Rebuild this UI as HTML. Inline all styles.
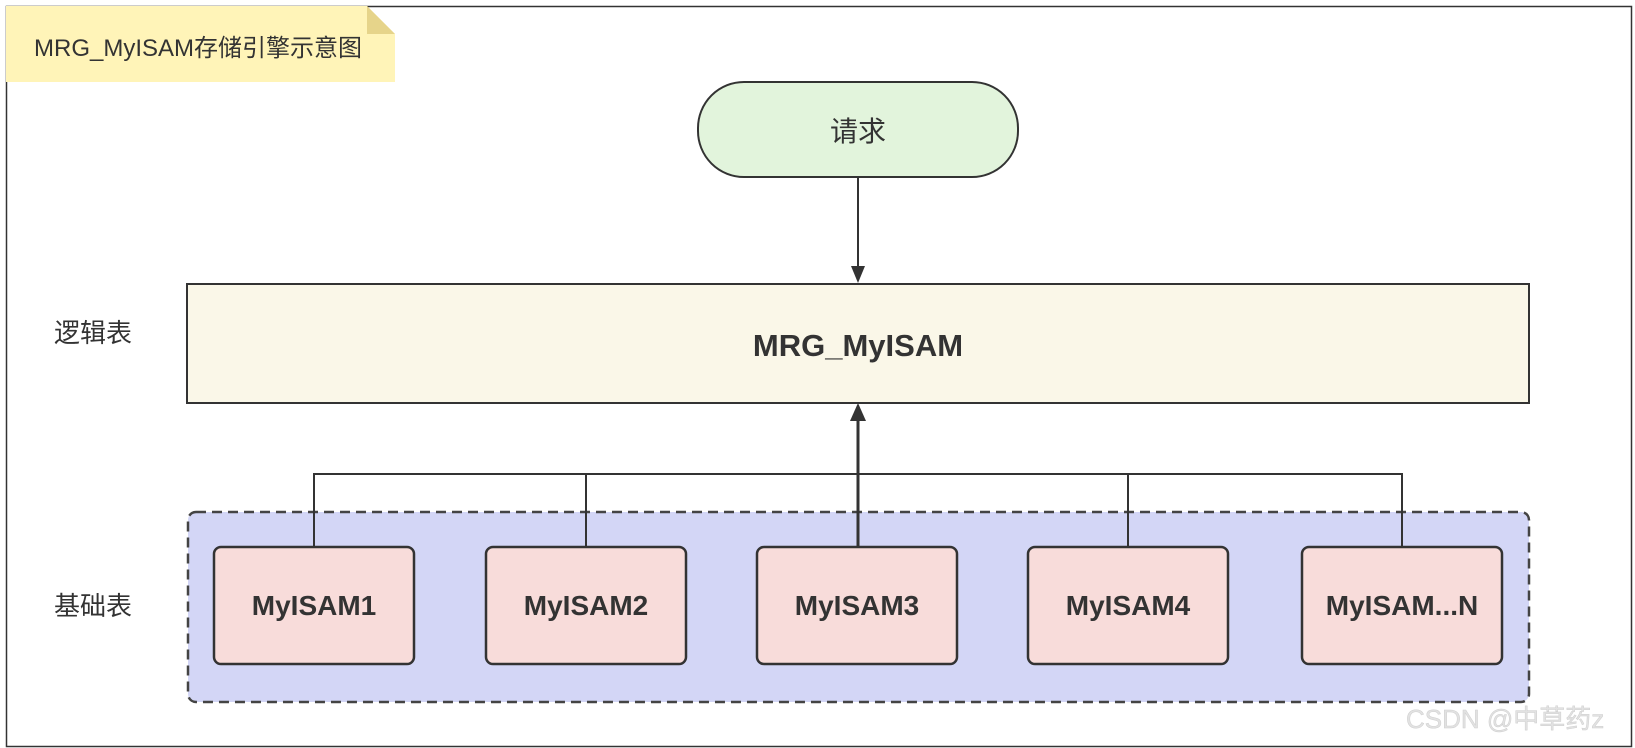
<!DOCTYPE html>
<html><head><meta charset="utf-8"><style>
html,body{margin:0;padding:0;background:#fff;}
svg{display:block;}
text{font-family:"Liberation Sans","Noto Sans CJK SC",sans-serif;}
</style></head><body>
<svg width="1635" height="748" viewBox="0 0 1635 748" xmlns="http://www.w3.org/2000/svg">
<rect x="0" y="0" width="1635" height="748" fill="#fff"/>
<rect x="6.5" y="6.5" width="1625" height="740" fill="none" stroke="#333" stroke-width="1.5"/>
<path d="M6 6 H367 L395 34 V82 H6 Z" fill="#fff4b8"/>
<path d="M367 6 L395 34 H367 Z" fill="#e6d48a"/>
<text x="34" y="56" font-size="24" fill="#333">MRG_MyISAM存储引擎示意图</text>
<rect x="698" y="82" width="320" height="95" rx="46" fill="#e2f4dc" stroke="#333" stroke-width="2"/>
<text x="858" y="141" font-size="28" fill="#333" text-anchor="middle">请求</text>
<line x1="858" y1="177" x2="858" y2="268" stroke="#333" stroke-width="2"/>
<path d="M851 266 L865 266 L858 283 Z" fill="#333"/>
<rect x="187" y="284" width="1342" height="119" fill="#faf7e8" stroke="#333" stroke-width="2"/>
<text x="858" y="356" font-size="31" font-weight="bold" fill="#333" text-anchor="middle">MRG_MyISAM</text>
<text x="54" y="342" font-size="26" fill="#333">逻辑表</text>
<text x="54" y="615" font-size="26" fill="#333">基础表</text>
<rect x="188" y="512" width="1341" height="190" rx="8" fill="#d3d6f6" stroke="#444" stroke-width="2.5" stroke-dasharray="10 6"/>
<g stroke="#333" stroke-width="2" fill="none">
<path d="M314 547 V474 H1402 V547"/>
<line x1="586" y1="474" x2="586" y2="547"/>
<line x1="1128" y1="474" x2="1128" y2="547"/>
<line x1="858" y1="547" x2="858" y2="418" stroke-width="3"/>
</g>
<path d="M850 421 L866 421 L858 403 Z" fill="#333"/>
<g stroke="#333" stroke-width="2.5" fill="#f8dcda">
<rect x="214" y="547" width="200" height="117" rx="7"/>
<rect x="486" y="547" width="200" height="117" rx="7"/>
<rect x="757" y="547" width="200" height="117" rx="7"/>
<rect x="1028" y="547" width="200" height="117" rx="7"/>
<rect x="1302" y="547" width="200" height="117" rx="7"/>
</g>
<g font-size="28" font-weight="bold" fill="#333" text-anchor="middle">
<text x="314" y="615">MyISAM1</text>
<text x="586" y="615">MyISAM2</text>
<text x="857" y="615">MyISAM3</text>
<text x="1128" y="615">MyISAM4</text>
<text x="1402" y="615">MyISAM...N</text>
</g>
<text x="1406" y="728" font-size="26" fill="#e2e2e2" stroke="#cfcfcf" stroke-width="0.5">CSDN @中草药z</text>
</svg>
</body></html>
